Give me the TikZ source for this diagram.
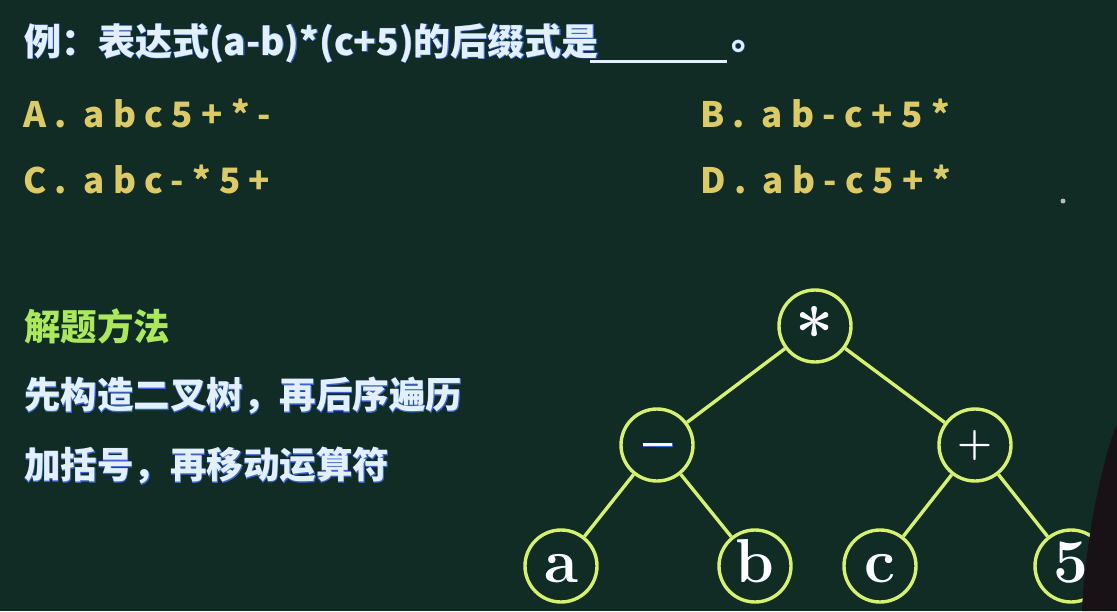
\documentclass[tikz,border=0pt]{standalone}
\usepackage{fontspec}
\newfontfamily\cjk{Noto Sans CJK SC}
\definecolor{bg}{RGB}{16,44,36}
\definecolor{titlec}{RGB}{226,240,255}
\definecolor{glow}{RGB}{60,100,210}
\definecolor{optc}{RGB}{220,202,102}
\definecolor{headc}{RGB}{172,232,92}
\definecolor{treec}{RGB}{214,240,112}
\definecolor{silhc}{RGB}{24,18,22}
\definecolor{dotc}{RGB}{180,188,188}
\newcommand\glowtxt[2]{\makebox[0pt][l]{\addfontfeatures{FakeBold=#2}\color{glow}#1}#1}
\tikzset{
  ttl/.style={inner sep=0pt, anchor=west, text=titlec, font=\cjk\bfseries\fontsize{37}{37}\selectfont},
  opt/.style={inner sep=0pt, anchor=base west, text=optc, font=\cjk\bfseries\fontsize{35}{35}\selectfont\addfontfeatures{LetterSpace=24}},
  head/.style={inner sep=0pt, anchor=west, text=headc, font=\cjk\bfseries\fontsize{36.5}{36.5}\selectfont},
  body/.style={inner sep=0pt, anchor=west, text=titlec, font=\cjk\bfseries\fontsize{36.5}{36.5}\selectfont},
  tnode/.style={circle, draw=treec, line width=3.4pt, fill=bg, minimum size=72pt, inner sep=0pt, text=white},
  edge/.style={draw=treec, line width=3.4pt},
}
\newcommand\leaf[1]{\raisebox{-16pt}[0pt][0pt]{\fontsize{62}{62}\selectfont\bfseries\glowtxt{#1}{2}}}
\begin{document}
\begin{tikzpicture}[x=1pt,y=-1pt]
\fill[bg] (0,0) rectangle (1117,611);
\useasboundingbox (0,0) rectangle (1117,611);
% title
\node[ttl] (title) at (24,43) {\glowtxt{例：表达式(a-b)*(c+5)的后缀式是}{2}};
\coordinate (ul1) at (590,61);
\coordinate (ul2) at (727,61);
\draw[titlec, line width=3pt] (ul1) -- (ul2);
\node[ttl] (dot) at (731,46) {\glowtxt{。}{2}};
% options
\node[opt] (oa) at (23,127) {A. abc5+*-};
\node[opt] (ob) at (700,127) {B. ab-c+5*};
\node[opt] (oc) at (23,193) {C. abc-*5+};
\node[opt] (od) at (700,193) {D. ab-c5+*};
% method
\node[head] (m0) at (24,326) {解题方法};
\node[body] (m1) at (24,396) {\glowtxt{先构造二叉树，再后序遍历}{2}};
\node[body] (m2) at (24,466) {\glowtxt{加括号，再移动运算符}{2}};
% tree
\node[tnode] (root) at (815,326) {\raisebox{-31pt}[0pt][0pt]{\fontsize{68}{68}\selectfont\bfseries\glowtxt{*}{2.5}}};
\node[tnode] (minus) at (657,445) {\raisebox{-1.5pt}[0pt][0pt]{\color{glow}\rule{30pt}{4pt}}\hspace*{-30pt}\raisebox{-1pt}[0pt][0pt]{\rule{29pt}{3pt}}};
\node[tnode] (plus) at (975,445) {\raisebox{-10pt}[0pt][0pt]{\fontsize{40}{40}\selectfont\bfseries\glowtxt{+}{1.5}}};
\node[tnode] (na) at (561,566) {\leaf{a}};
\node[tnode] (nb) at (755,566) {\leaf{b}};
\node[tnode] (nc) at (880,566) {\leaf{c}};
\node[tnode] (n5) at (1071,566) {\leaf{5}};
\draw[edge] (root) -- (minus);
\draw[edge] (root) -- (plus);
\draw[edge] (minus) -- (na);
\draw[edge] (minus) -- (nb);
\draw[edge] (plus) -- (nc);
\draw[edge] (plus) -- (n5);
% silhouette and dot
\fill[silhc] (1117,424) .. controls (1108,445) and (1100,480) .. (1094,510) .. controls (1088,545) and (1083,580) .. (1082,611) -- (1117,611) -- cycle;
\fill[dotc] (1063,201) circle (2.5);
\end{tikzpicture}
\end{document}
